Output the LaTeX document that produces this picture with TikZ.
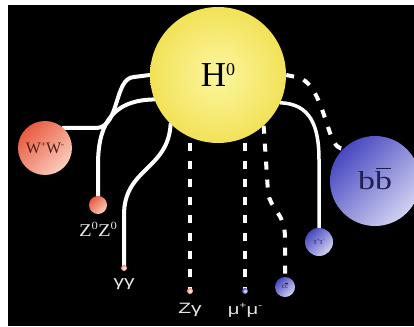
\documentclass[tikz,border=0pt]{standalone}
\usepackage{fontspec}
\setmainfont{Liberation Serif}
\newfontfamily\labsans{Liberation Sans}
\usetikzlibrary{calc}
\pgfdeclarelayer{canvasbg}
\pgfdeclarelayer{lines}
\pgfsetlayers{canvasbg,lines,main}
\definecolor{hin}{RGB}{252,246,160}
\definecolor{hout}{RGB}{242,226,88}
\definecolor{rdark}{RGB}{232,92,64}
\definecolor{rlight}{RGB}{250,205,190}
\definecolor{bdark}{RGB}{72,72,192}
\definecolor{blight}{RGB}{210,210,242}
\definecolor{labgray}{RGB}{228,228,228}
\definecolor{wtext}{RGB}{80,30,20}
\definecolor{btext}{RGB}{30,30,80}
\newcommand{\barred}[1]{\ooalign{#1\cr\hidewidth\raisebox{0.8em}{\rule{0.42em}{0.06em}}\hidewidth\cr}}
\tikzset{
  sphere/.style={circle, inner sep=0pt, draw=none},
  hball/.style={sphere, inner color=hin, outer color=hout},
  redball/.style={sphere, top color=rdark, bottom color=rlight, shading angle=45},
  blueball/.style={sphere, top color=bdark, bottom color=blight, shading angle=45},
  enddot/.style={circle, inner sep=0pt, minimum size=6pt, draw=none},
  lab/.style={text=labgray, inner sep=0pt},
  solidline/.style={draw=white, line width=4pt, line cap=round},
  dashline/.style={draw=white, line width=4pt, dash pattern=on 8pt off 10pt},
}
\begin{document}
\begin{tikzpicture}[x=1pt,y=-1pt]
\begin{pgfonlayer}{canvasbg}
\fill[white] (0,0) rectangle (414,326);
\fill[black] (8,5) rectangle (414,326);
\end{pgfonlayer}
\useasboundingbox (0,0) rectangle (414,326);
% spheres
\node[hball, minimum size=136pt] (H) at (218,75) {\fontsize{35}{35}\selectfont H\raisebox{0.33em}{\fontsize{18}{18}\selectfont 0}};
\node[redball, minimum size=54pt, text=wtext] (WW) at (45,148) {\fontsize{16}{16}\selectfont W\raisebox{0.4em}{\fontsize{9}{9}\selectfont +}W\raisebox{0.4em}{\fontsize{9}{9}\selectfont -}};
\node[redball, minimum size=18pt] (ZZ) at (98,205) {};
\node[blueball, minimum size=90pt, text=btext] (bb) at (375,181) {\scalebox{1.3}[1]{\fontsize{26}{26}\selectfont b\barred{b}}};
\node[blueball, minimum size=28pt, text=btext] (tt) at (319,242) {\fontsize{8}{8}\selectfont τ\raisebox{0.4em}{\fontsize{5}{5}\selectfont +}τ\raisebox{0.4em}{\fontsize{5}{5}\selectfont -}};
\node[blueball, minimum size=20pt, text=btext] (cc) at (285,287) {\fontsize{7}{7}\selectfont c\barred{c}};
\node[enddot, inner color=white, outer color=rdark!70] (ggd) at (124,268) {};
\node[enddot, inner color=white, outer color=rdark!70] (zgd) at (190,291) {};
\node[enddot, inner color=white, outer color=bdark] (mmd) at (245,291) {};
% labels
\node[lab] (ZZl) at (98,229) {\scalebox{1.15}[1]{\fontsize{18}{18}\selectfont Z\raisebox{0.38em}{\fontsize{11}{11}\selectfont 0}Z\raisebox{0.38em}{\fontsize{11}{11}\selectfont 0}}};
\node[lab] (ggl) at (124,284) {\scalebox{1.4}[1]{\labsans\fontsize{15}{15}\selectfont γγ}};
\node[lab] (zgl) at (190,310) {\scalebox{1.4}[1]{\labsans\fontsize{15}{15}\selectfont Zγ}};
\node[lab] (mml) at (245,310) {\scalebox{1.35}[1]{\labsans\fontsize{15}{15}\selectfont μ\raisebox{0.4em}{\fontsize{9}{9}\selectfont +}μ\raisebox{0.4em}{\fontsize{9}{9}\selectfont -}}};
% connectors
\begin{pgfonlayer}{lines}
\draw[solidline] (H.180) -- (134,77) .. controls (114,78) and (120,126) .. (97,128) -- (WW.48);
\draw[solidline] (H.201) .. controls (108,100) and (98,130) .. (98,165) -- (ZZ.north);
\draw[solidline] (H.226) .. controls (168,170) and (124,168) .. (124,215) -- (ggd.center);
\draw[dashline] (zgd |- H.south) -- (zgd.center);
\draw[dashline] (mmd |- H.south) -- (mmd.center);
\draw[dashline] (H.-48) -- (268,192) .. controls (270,210) and (285,212) .. (285,238) -- (cc.north);
\draw[solidline, line width=3.5pt] (H.-24) .. controls (310,104) and (319,125) .. (319,160) -- (tt.north);
\draw[dashline] (H.0) -- (296,77) .. controls (315,80) and (322,110) .. (330,133) .. controls (335,147) and (340,150) .. (bb.133);
\end{pgfonlayer}
\end{tikzpicture}
\end{document}
